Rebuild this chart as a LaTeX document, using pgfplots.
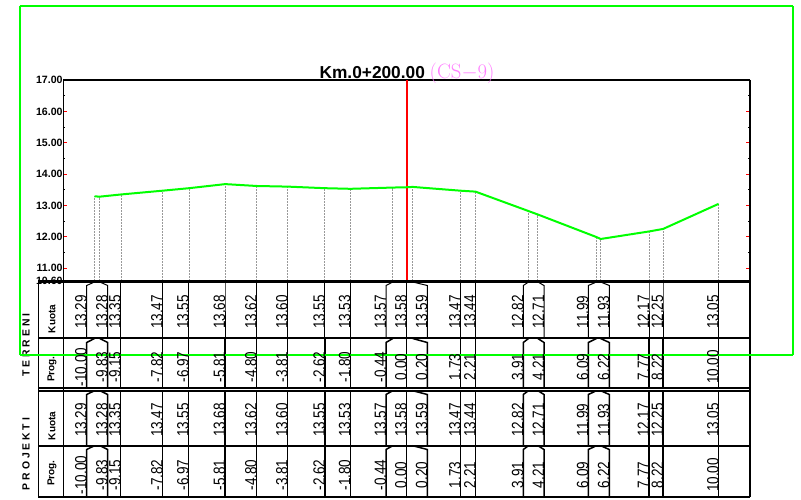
\documentclass[border=0pt]{standalone}
\usepackage[no-math]{fontspec}
\setmainfont{Liberation Sans}
\newfontfamily\narrowfont[FakeStretch=0.82]{Liberation Sans}
\usepackage{xcolor}
\usepackage{pgfplots}
\usepackage{pgfplotstable}
\pgfplotsset{compat=1.18}

\definecolor{gline}{RGB}{0,255,0}
\definecolor{cspink}{RGB}{255,128,255}

% one table: chainage, elevation, x of the table column in pixels
\pgfplotstableread{
prog    kuota  xl
-10.00  13.29  86.7
-9.83   13.28  107.7
-9.15   13.35  120.7
-7.82   13.47  162.5
-6.97   13.55  188.7
-5.81   13.68  225
-4.80   13.62  256.7
-3.81   13.60  287.6
-2.62   13.55  324.8
-1.80   13.53  350.3
-0.44   13.57  386
0.00    13.58  406.5
0.20    13.59  427.3
1.73    13.47  460.5
2.21    13.44  475.5
3.91    12.82  523.3
4.21    12.71  544
6.09    11.99  588.3
6.22    11.93  609.3
7.77    12.17  649
8.22    12.25  663
10.00   13.05  718.5
}\stations

% column line: station x, column x
\newcommand{\colline}[2]{
  \addplot[black, line width=1pt] coordinates {(#1,282)(#2,285.5)(#2,338)};
  \addplot[black, line width=1.5pt] coordinates {(#1,338.5)(#2,342.5)(#2,388.5)};
  \addplot[black, line width=1.5pt] coordinates {(#1,390.7)(#2,394.5)(#2,445.7)};
  \addplot[black, line width=1.5pt] coordinates {(#1,445.7)(#2,449.5)(#2,496.7)};
}
\newcommand{\rowline}[2]{\addplot[black, line width=#2] coordinates {(38.3,#1)(750,#1)};}
\newcommand{\rowtext}[2]{%
  \addplot[draw=none, mark=none, point meta=explicit symbolic, nodes near coords]
    table[x=xl, y expr=#1, meta=#2] {\stations};
}

\begin{document}
\begin{tikzpicture}
\useasboundingbox (0pt,0pt) rectangle (801pt,500pt);

% profile
\begin{axis}[
  at={(63.3pt,219.3pt)}, anchor=south west,
  scale only axis, width=686.5pt, height=200.7pt,
  xmin=-11, xmax=11, ymin=10.6, ymax=17,
  xtick=\empty,
  ytick={10.6,11,12,13,14,15,16,17},
  minor ytick={11.5,12.5,13.5,14.5,15.5,16.5},
  tick align=inside,
  ytick pos=both,
  yticklabel pos=left,
  major tick length=4pt, minor tick length=2pt,
  major tick style={red, line width=1pt},
  minor tick style={black, line width=1pt},
  axis line style={black, line width=1.3pt},
  yticklabel style={font=\bfseries\fontsize{10.6}{12}\selectfont, inner sep=0.5pt,
    /pgf/number format/.cd, fixed, fixed zerofill, precision=2, assume math mode=true},
  title={\fontsize{17.3}{20}\selectfont\bfseries Km.0+200.00 {\mdseries\fontsize{19.5}{20}\selectfont\color{cspink}$\mathrm{(CS{-}9)}$}},
  title style={at={(0.5,1)}, anchor=base, yshift=-5pt, xshift=0.5pt, inner sep=0pt},
]
\addplot[ycomb, black!40, dash pattern=on 2pt off 1pt, line width=0.9pt] table[x=prog, y=kuota] {\stations};
\addplot[red, line width=2pt] coordinates {(0,10.6)(0,17)};
\addplot[gline, line width=2pt] table[x=prog, y=kuota] {\stations};
\end{axis}

% data table and outer frame, in page pixels
\begin{axis}[
  at={(0pt,0pt)}, anchor=south west,
  scale only axis, width=801pt, height=500pt,
  xmin=0, xmax=801, ymin=0, ymax=500, y dir=reverse,
  hide axis, clip=false,
  every node near coord/.append style={rotate=90, anchor=base, inner sep=0pt,
    xshift=-2pt, black, font=\narrowfont\fontsize{16.5}{16.5}\selectfont},
]
\colline{94.5}{86.7}
\colline{99.8}{107.7}
\colline{120.7}{120.7}
\colline{162.5}{162.5}
\colline{188.7}{188.7}
\colline{225}{225}
\colline{256.7}{256.7}
\colline{287.6}{287.6}
\colline{324.8}{324.8}
\colline{350.3}{350.3}
\colline{392.8}{386}
\colline{406.5}{406.5}
\colline{412.7}{427.3}
\colline{460.5}{460.5}
\colline{475.5}{475.5}
\colline{528.5}{523.3}
\colline{537.9}{544}
\colline{596.5}{588.3}
\colline{600.6}{609.3}
\colline{649}{649}
\colline{663}{663}
\colline{718.5}{718.5}

\addplot[black, line width=1.5pt] coordinates {(38.3,282)(38.3,496.7)};
\addplot[black, line width=1.5pt] coordinates {(63.3,282)(63.3,496.7)};
\addplot[black, line width=1.8pt] coordinates {(750,80)(750,496.7)};
\rowline{281}{3pt}
\rowline{338.3}{1.8pt}
\rowline{388.2}{1.5pt}
\rowline{390.8}{1.5pt}
\rowline{445.7}{1.8pt}
\rowline{496.7}{1.8pt}

\rowtext{310}{kuota}
\rowtext{365}{prog}
\rowtext{418}{kuota}
\rowtext{473}{prog}

\node[rotate=90, font=\bfseries\fontsize{10}{12}\selectfont, inner sep=0pt] at (axis cs:52,319) {Kuota};
\node[rotate=90, font=\bfseries\fontsize{10}{12}\selectfont, inner sep=0pt] at (axis cs:52,369) {Prog.};
\node[rotate=90, font=\bfseries\fontsize{10}{12}\selectfont, inner sep=0pt] at (axis cs:52,426) {Kuota};
\node[rotate=90, font=\bfseries\fontsize{10}{12}\selectfont, inner sep=0pt] at (axis cs:52,473) {Prog.};
\node[rotate=90, font=\bfseries\fontsize{10.4}{12}\selectfont, inner sep=0pt] at (axis cs:26,345) {T E R R E N I};
\node[rotate=90, font=\bfseries\fontsize{10.4}{12}\selectfont, inner sep=0pt] at (axis cs:26,454) {P R O J E K T I};

\addplot[gline, line width=2pt] coordinates {(19.5,6)(793,6)};
\addplot[gline, line width=2pt] coordinates {(793,6)(793,355)};
\addplot[gline, line width=2pt] coordinates {(793,355)(19.5,355)};
\addplot[gline, line width=2pt] coordinates {(19.5,355)(19.5,6)};
\end{axis}
\end{tikzpicture}
\end{document}
